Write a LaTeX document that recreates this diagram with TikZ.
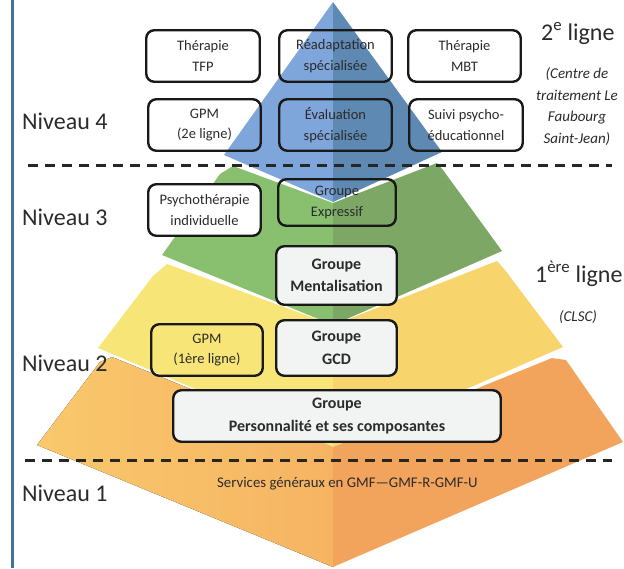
\documentclass[tikz,border=0pt]{standalone}
\usepackage{fontspec}
\setmainfont{Carlito}
\definecolor{bluL}{HTML}{7FA6DA}
\definecolor{bluR}{HTML}{5E89B2}
\definecolor{grnL}{HTML}{89C06F}
\definecolor{grnR}{HTML}{7DA765}
\definecolor{yelL}{HTML}{F8E577}
\definecolor{yelR}{HTML}{F7D46C}
\definecolor{orgT}{HTML}{F6B463}
\definecolor{orgL}{HTML}{F9C86C}
\definecolor{orgR}{HTML}{F2A45D}
\definecolor{barc}{HTML}{43729B}
\definecolor{boxfill}{HTML}{F2F3F3}
\definecolor{txt}{HTML}{2B2B2B}
\begin{document}
\begin{tikzpicture}[x=1pt,y=-1pt,
  box/.style={draw=black!90, line width=2.4pt, rounded corners=8pt, align=center,
    font=\fontsize{14.5}{20.5}\selectfont, text=txt, inner sep=0pt},
  wbox/.style={box, fill=white},
  bbox/.style={box, fill=boxfill, font=\bfseries\fontsize{16}{22.5}\selectfont},
  lvl/.style={anchor=base west, font=\fontsize{24}{28}\selectfont, text=txt, inner sep=0pt},
  dline/.style={line width=3pt, black!85, dash pattern=on 10pt off 7pt},
  side/.style={font=\itshape\fontsize{15}{21.5}\selectfont, text=txt, align=center, inner sep=0pt}
]
\useasboundingbox (0,0) rectangle (624,568);
% left bar
\fill[barc] (10.5,0) rectangle (13.5,568);
% orange layer
\fill[left color=orgL, right color=orgT] (333,447) -- (112,357) -- (100,362) -- (37,445) -- (333,567) -- cycle;
\fill[orgR] (333,447) -- (552,358) -- (566,360) -- (623,442) -- (333,567) -- cycle;
% yellow layer
\fill[yelL] (333,325) -- (167,264) -- (153,276) -- (98,348) -- (333,447) -- cycle;
\fill[yelR] (333,325) -- (497,261) -- (505,270) -- (563,347) -- (333,447) -- cycle;
% green layer
\fill[grnL] (333,203) -- (233,166) -- (220,174) -- (162,255) -- (333,325) -- cycle;
\fill[grnR] (333,203) -- (437,163) -- (443,170) -- (502,251) -- (333,325) -- cycle;
% blue layer
\fill[bluL] (333,2) -- (224,155) -- (333,202) -- cycle;
\fill[bluR] (333,2) -- (333,202) -- (442,152) -- cycle;
% dashed separators
\coordinate (d1a) at (28,165);
\coordinate (d1b) at (612,165);
\coordinate (d2a) at (25,460);
\coordinate (d2b) at (612,460);
\draw[dline] (d1a) -- (d1b);
\draw[dline] (d2a) -- (d2b);
% boxes
\node[wbox, minimum width=113.5pt, minimum height=51.5pt] (tfp) at (203,56) {Thérapie\\TFP};
\node[box, minimum width=112.5pt, minimum height=51.5pt] (rea) at (335.5,56) {Réadaptation\\spécialisée};
\node[wbox, minimum width=112.5pt, minimum height=51.5pt] (mbt) at (464.5,56) {Thérapie\\MBT};
\node[box, minimum width=112.5pt, minimum height=51.5pt] (gpm2) at (204.5,125) {GPM\\(2e ligne)};
\node[box, minimum width=112.5pt, minimum height=51.5pt] (eva) at (335.5,125) {Évaluation\\spécialisée};
\node[box, minimum width=113.5pt, minimum height=51.5pt] (suivi) at (466,125) {Suivi psycho-\\éducationnel};
\node[wbox, minimum width=112.5pt, minimum height=51.5pt] (psy) at (204.5,210) {Psychothérapie\\individuelle};
\node[box, minimum width=117.5pt, minimum height=46.5pt] (expr) at (337,202.5) {Groupe\\Expressif};
\node[bbox, minimum width=120.5pt, minimum height=58.5pt] (ment) at (336.5,275.5) {Groupe\\Mentalisation};
\node[box, minimum width=111.5pt, minimum height=51.5pt] (gpm1) at (207,350) {GPM\\(1ère ligne)};
\node[bbox, minimum width=120.5pt, minimum height=55.5pt] (gcd) at (336.5,348) {Groupe\\GCD};
\node[bbox, minimum width=327.5pt, minimum height=51.5pt] (pers) at (337,416) {Groupe\\Personnalité et ses composantes};
% level labels
\node[lvl] (n4) at (22,129) {Niveau 4};
\node[lvl] (n3) at (22,225) {Niveau 3};
\node[lvl] (n2) at (22,371) {Niveau 2};
\node[lvl] (n1) at (22,501) {Niveau 1};
% side labels
\node[anchor=base west, font=\fontsize{24}{28}\selectfont, text=txt, inner sep=0pt] (l2) at (541,40) {2\textsuperscript{e} ligne};
\node[side, anchor=base] (ctr) at (577,143) {(Centre de\\traitement Le\\Faubourg\\Saint-Jean)};
\node[anchor=base west, font=\fontsize{24}{28}\selectfont, text=txt, inner sep=0pt] (l1) at (535,282) {1\textsuperscript{ère} ligne};
\node[anchor=base, font=\itshape\fontsize{15}{18}\selectfont, text=txt, inner sep=0pt] (clsc) at (578,321) {(CLSC)};
\node[anchor=base west, font=\fontsize{14.8}{17}\selectfont, text=txt, inner sep=0pt] (serv) at (217,487) {Services généraux en GMF—GMF-R-GMF-U};
\end{tikzpicture}
\end{document}
